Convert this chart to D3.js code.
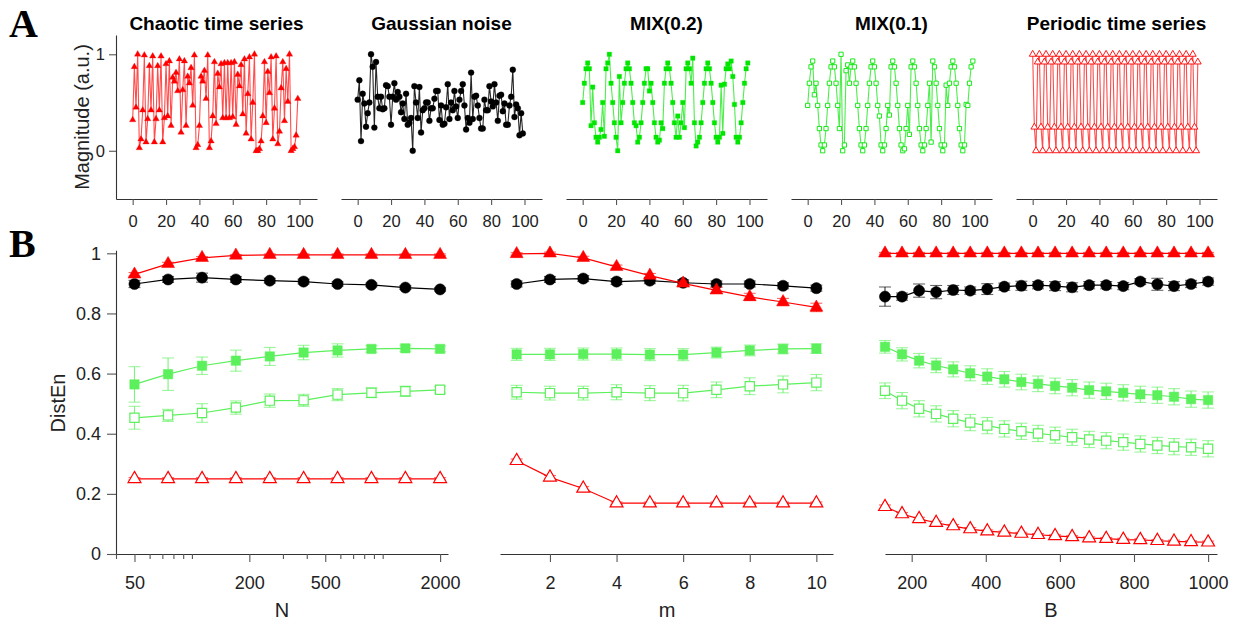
<!DOCTYPE html>
<html>
<head>
<meta charset="utf-8">
<script src="https://cdn.jsdelivr.net/npm/d3@7"></script>
<style>
  html, body { margin: 0; padding: 0; background: #fff; }
  text { font-family: "Liberation Sans", Arial, Helvetica, sans-serif; fill: #222; }
</style>
</head>
<body>
<script>
// ---------------- DATA ----------------
const tsTitles = ["Chaotic time series", "Gaussian noise", "MIX(0.2)", "MIX(0.1)", "Periodic time series"];
const tsTicks = [0, 20, 40, 60, 80, 100];
const tsYTicks = [0, 1];

const chaoticTS = [0.32,0.87,0.45,1.0,0.03,0.12,0.42,0.99,0.09,0.33,0.88,0.42,0.98,0.09,0.33,0.88,0.42,0.98,0.09,0.34,
  0.90,0.36,0.93,0.26,0.76,0.72,0.81,0.62,0.95,0.19,0.63,0.93,0.26,0.77,0.70,0.86,0.47,0.99,0.03,0.06,
  0.26,0.77,0.72,0.83,0.54,0.99,0.03,0.10,0.36,0.92,0.28,0.80,0.66,0.90,0.34,0.91,0.34,0.91,0.34,0.91,
  0.35,0.92,0.27,0.79,0.67,0.89,0.38,0.95,0.18,0.59,0.97,0.12,0.50,1.0,0.0,0.0,0.02,0.10,0.36,0.92,
  0.29,0.82,0.60,0.97,0.12,0.44,0.98,0.07,0.20,0.65,0.92,0.31,0.85,0.51,1.0,0.0,0.02,0.04,0.16,0.54];

const gaussianTS = [0.53,0.73,0.10,0.59,0.49,0.25,0.39,0.50,1.0,0.87,0.24,0.92,0.56,0.44,0.56,0.43,0.44,0.68,0.67,0.56,
  0.27,0.56,0.70,0.53,0.61,0.56,0.40,0.49,0.33,0.59,0.27,0.29,0.34,0.0,0.67,0.50,0.34,0.66,0.19,0.42,
  0.44,0.50,0.50,0.31,0.44,0.44,0.54,0.62,0.62,0.32,0.47,0.27,0.28,0.45,0.69,0.33,0.50,0.42,0.62,0.46,
  0.34,0.53,0.62,0.69,0.47,0.22,0.34,0.29,0.81,0.33,0.56,0.57,0.47,0.34,0.23,0.23,0.53,0.42,0.42,0.67,
  0.51,0.46,0.69,0.50,0.31,0.57,0.58,0.41,0.49,0.27,0.27,0.47,0.56,0.84,0.35,0.48,0.44,0.16,0.39,0.18];

const mix02TS = [0.50,0.70,0.85,0.91,0.85,0.26,0.66,0.29,0.14,0.09,0.14,0.22,0.50,0.15,0.85,0.91,1.0,0.70,0.50,0.29,
  0.14,0.0,0.77,0.29,0.50,0.70,0.85,0.91,0.85,0.70,0.50,0.29,0.26,0.09,0.14,0.29,0.50,0.70,0.85,0.85,
  0.62,0.70,0.50,0.29,0.14,0.09,0.11,0.29,0.23,0.70,0.85,0.91,0.85,0.70,0.50,0.29,0.14,0.36,0.14,0.29,
  0.50,0.24,0.85,0.91,0.85,0.70,0.96,0.29,0.05,0.09,0.14,0.29,0.50,0.70,0.85,0.91,0.85,0.70,0.50,0.29,
  0.14,0.09,0.14,0.68,0.18,0.69,0.85,0.90,0.85,0.93,0.77,0.48,0.14,0.09,0.14,0.29,0.50,0.70,0.85,0.91];

const mix01TS = [0.47,0.70,0.87,0.93,0.58,0.70,0.47,0.23,0.06,0.0,0.06,0.23,0.47,0.70,0.87,0.93,0.87,0.70,0.47,0.23,
  1.0,0.0,0.06,0.83,0.89,0.70,0.87,0.93,0.87,0.70,0.47,0.23,0.06,0.0,0.06,0.23,0.47,0.70,0.87,0.93,
  0.87,0.70,0.47,0.36,0.06,0.0,0.06,0.23,0.47,0.37,0.87,0.93,0.87,0.70,0.47,0.23,0.06,0.0,0.02,0.23,
  0.47,0.17,0.87,0.93,0.87,0.70,0.47,0.23,0.06,0.0,0.06,0.23,0.47,0.70,0.09,0.93,0.87,0.70,0.47,0.23,
  0.06,0.0,0.06,0.68,0.47,0.70,0.87,0.93,0.87,0.70,0.47,0.23,0.06,0.0,0.06,0.48,0.47,0.70,0.87,0.93];

const periodicTS = [1.0,0.245,0.0,0.92,1.0,0.245,0.0,0.92,1.0,0.245,0.0,0.92,1.0,0.245,0.0,0.92,1.0,0.245,0.0,0.92,
  1.0,0.245,0.0,0.92,1.0,0.245,0.0,0.92,1.0,0.245,0.0,0.92,1.0,0.245,0.0,0.92,1.0,0.245,0.0,0.92,
  1.0,0.245,0.0,0.92,1.0,0.245,0.0,0.92,1.0,0.245,0.0,0.92,1.0,0.245,0.0,0.92,1.0,0.245,0.0,0.92,
  1.0,0.245,0.0,0.92,1.0,0.245,0.0,0.92,1.0,0.245,0.0,0.92,1.0,0.245,0.0,0.92,1.0,0.245,0.0,0.92,
  1.0,0.245,0.0,0.92,1.0,0.245,0.0,0.92,1.0,0.245,0.0,0.92,1.0,0.245,0.0,0.92,1.0,0.245,0.0,0.92];

// Panel B
const yTicksB = [0, 0.2, 0.4, 0.6, 0.8, 1];
const yTickLabelsB = ["0", "0.2", "0.4", "0.6", "0.8", "1"];

const NVals = [50, 75, 113, 170, 256, 385, 580, 873, 1315, 2000];
const NMajorTicks = [50, 200, 500, 2000];
const NMinorTicks = [40, 60, 70, 80, 90, 100, 300, 400, 600, 700, 800, 900, 1000];
const N_chaotic  = [0.930,0.965,0.985,0.993,0.995,0.995,0.995,0.995,0.995,0.995];
const N_chaoticE = [0.006,0.005,0.004,0.003,0.003,0.003,0.003,0.003,0.003,0.003];
const N_gauss    = [0.898,0.913,0.919,0.913,0.909,0.906,0.898,0.895,0.886,0.880];
const N_gaussE   = [0.012,0.010,0.015,0.010,0.008,0.008,0.007,0.006,0.006,0.005];
const N_mix02    = [0.564,0.598,0.626,0.643,0.657,0.670,0.677,0.682,0.684,0.682];
const N_mix02E   = [0.059,0.054,0.029,0.035,0.030,0.024,0.022,0.011,0.010,0.010];
const N_mix01    = [0.453,0.461,0.469,0.487,0.510,0.511,0.530,0.536,0.541,0.546];
const N_mix01E   = [0.038,0.020,0.031,0.022,0.022,0.020,0.020,0.016,0.017,0.011];
const N_periodic = [0.250,0.250,0.250,0.250,0.250,0.250,0.250,0.250,0.250,0.250];
const N_periodicE= [0.004,0.004,0.004,0.004,0.004,0.004,0.004,0.004,0.004,0.004];

const mVals = [1, 2, 3, 4, 5, 6, 7, 8, 9, 10];
const mTicks = [2, 4, 6, 8, 10];
const m_chaotic  = [0.998,1.000,0.985,0.955,0.926,0.900,0.877,0.855,0.838,0.820];
const m_chaoticE = [0.004,0.004,0.005,0.006,0.007,0.008,0.010,0.012,0.012,0.014];
const m_gauss    = [0.898,0.913,0.916,0.906,0.909,0.902,0.898,0.898,0.892,0.884];
const m_gaussE   = [0.010,0.010,0.010,0.010,0.010,0.010,0.010,0.010,0.010,0.010];
const m_mix02    = [0.664,0.664,0.665,0.665,0.663,0.663,0.670,0.677,0.682,0.683];
const m_mix02E   = [0.020,0.020,0.020,0.020,0.020,0.020,0.018,0.018,0.016,0.016];
const m_mix01    = [0.538,0.535,0.535,0.538,0.535,0.535,0.546,0.558,0.564,0.570];
const m_mix01E   = [0.023,0.023,0.023,0.025,0.025,0.026,0.026,0.028,0.028,0.027];
const m_periodic = [0.310,0.255,0.218,0.169,0.169,0.169,0.169,0.169,0.169,0.169];
const m_periodicE= [0.006,0.006,0.006,0.004,0.004,0.004,0.004,0.004,0.004,0.004];

const BVals = [128,174,220,266,312,358,404,450,496,541,587,633,679,725,771,817,863,908,954,1000];
const BTicks = [200, 400, 600, 800, 1000];
const B_chaotic  = [1.0,1.0,1.0,1.0,1.0,1.0,1.0,1.0,1.0,1.0,1.0,1.0,1.0,1.0,1.0,1.0,1.0,1.0,1.0,1.0];
const B_chaoticE = [0.003,0.003,0.003,0.003,0.003,0.003,0.003,0.003,0.003,0.003,0.003,0.003,0.003,0.003,0.003,0.003,0.003,0.003,0.003,0.003];
const B_gauss    = [0.856,0.856,0.876,0.871,0.878,0.876,0.881,0.889,0.892,0.894,0.891,0.887,0.894,0.894,0.891,0.906,0.897,0.891,0.898,0.906];
const B_gaussE   = [0.032,0.012,0.022,0.022,0.015,0.012,0.018,0.012,0.015,0.012,0.015,0.015,0.012,0.012,0.012,0.010,0.020,0.015,0.012,0.012];
const B_mix02    = [0.689,0.664,0.643,0.627,0.614,0.601,0.590,0.581,0.572,0.566,0.559,0.553,0.545,0.541,0.536,0.531,0.528,0.523,0.515,0.512];
const B_mix02E   = [0.021,0.022,0.024,0.024,0.025,0.025,0.026,0.026,0.026,0.026,0.026,0.027,0.027,0.027,0.027,0.027,0.027,0.027,0.027,0.027];
const B_mix01    = [0.543,0.510,0.483,0.466,0.450,0.437,0.427,0.416,0.408,0.401,0.395,0.388,0.381,0.377,0.372,0.366,0.361,0.357,0.355,0.350];
const B_mix01E   = [0.026,0.027,0.027,0.027,0.027,0.027,0.027,0.027,0.027,0.027,0.027,0.027,0.027,0.027,0.027,0.027,0.027,0.027,0.027,0.027];
const B_periodic = [0.157,0.133,0.117,0.104,0.093,0.083,0.076,0.072,0.068,0.064,0.060,0.057,0.053,0.051,0.048,0.047,0.044,0.042,0.040,0.039];
const B_periodicE= [0.006,0.005,0.005,0.005,0.005,0.005,0.004,0.004,0.004,0.004,0.004,0.004,0.004,0.004,0.004,0.004,0.004,0.004,0.004,0.004];

// ---------------- DRAWING ----------------
const W = 1239, H = 622;
const RED = "#ff0000", BLACK = "#000000", GREEN_T = "#00e600", GREEN_B = "#5cf05c";
const svg = d3.select("body").append("svg").attr("width", W).attr("height", H);

const sym = (type, area) => d3.symbol().type(type).size(area)();

function styleAxis(g) {
  g.select(".domain").attr("stroke", "#333").attr("stroke-width", 1.1);
  g.selectAll(".tick line").attr("stroke", "#555").attr("stroke-width", 1.1);
  g.selectAll(".tick text").attr("fill", "#222").attr("font-family", '"Liberation Sans", Arial, sans-serif');
}

// Panel letters
svg.append("text").attr("x", 9).attr("y", 37).text("A")
  .style("font-family", '"Liberation Serif", "DejaVu Serif", serif').style("font-weight", "bold").style("font-size", "40px").style("fill", "#000");
svg.append("text").attr("x", 9).attr("y", 257).text("B")
  .style("font-family", '"Liberation Serif", "DejaVu Serif", serif').style("font-weight", "bold").style("font-size", "40px").style("fill", "#000");

// ---- Panel A ----
const tsLeft = [116, 341, 566, 791, 1016];
const tsWidth = 201;
const tsSeries = [chaoticTS, gaussianTS, mix02TS, mix01TS, periodicTS];
const tsColors = [RED, BLACK, GREEN_T, GREEN_T, RED];
const tsMarkers = [
  {type: d3.symbolTriangle, area: 18, fill: true},
  {type: d3.symbolCircle, area: 28, fill: true},
  {type: d3.symbolSquare, area: 20, fill: true},
  {type: d3.symbolSquare, area: 18, fill: false},
  {type: d3.symbolTriangle, area: 20, fill: false}
];
const yA = d3.scaleLinear().domain([-0.5, 1.2]).range([199, 35]);

tsSeries.forEach((data, i) => {
  const x = d3.scaleLinear().domain([-10, 110.5]).range([tsLeft[i], tsLeft[i] + tsWidth]);
  const g = svg.append("g");
  const ax = g.append("g").attr("transform", "translate(0,199)")
    .call(d3.axisBottom(x).tickValues(tsTicks).tickSize(6).tickSizeOuter(0).tickPadding(10));
  styleAxis(ax);
  ax.selectAll(".tick text").style("font-size", "16.5px");

  if (i === 0) {
    const ay = g.append("g").attr("transform", `translate(${tsLeft[0]},0)`)
      .call(d3.axisLeft(yA).tickValues(tsYTicks).tickSize(7).tickSizeOuter(0).tickPadding(4).tickFormat(d3.format("d")));
    styleAxis(ay);
    ay.selectAll(".tick text").style("font-size", "16.5px");
  }

  g.append("text").attr("x", tsLeft[i] + tsWidth / 2).attr("y", 29.5).attr("text-anchor", "middle")
    .style("font-weight", "bold").style("font-size", "19px").style("fill", "#000").text(tsTitles[i]);

  const line = d3.line().x((d, j) => x(j)).y(d => yA(d));
  g.append("path").datum(data).attr("d", line).attr("fill", "none")
    .attr("stroke", tsColors[i]).attr("stroke-opacity", i === 1 ? 0.85 : 0.7).attr("stroke-width", 1.1);

  const mk = tsMarkers[i];
  g.selectAll("path.mk").data(data).enter().append("path").attr("class", "mk")
    .attr("d", sym(mk.type, mk.area))
    .attr("transform", (d, j) => `translate(${x(j)},${yA(d)})`)
    .attr("fill", mk.fill ? tsColors[i] : "#fff")
    .attr("stroke", tsColors[i]).attr("stroke-width", mk.fill ? 0.3 : 0.9);
});

svg.append("text").attr("transform", "translate(89,117) rotate(-90)").attr("text-anchor", "middle")
  .style("font-size", "20px").style("fill", "#222").text("Magnitude (a.u.)");

// ---- Panel B ----
const yB = d3.scaleLinear().domain([0, 1.01]).range([554, 250.3]);
const xN = d3.scaleLog().domain([40, 2200]).range([116, 448]);
const xM = d3.scaleLinear().domain([0.5, 10.5]).range([500, 833]);
const xBB = d3.scaleLinear().domain([128, 1024]).range([885, 1217]);

// y axis
const ayB = svg.append("g").attr("transform", "translate(116,0)")
  .call(d3.axisLeft(yB).tickValues(yTicksB).tickSize(9).tickSizeOuter(0).tickPadding(6)
    .tickFormat((d, i) => yTickLabelsB[i]));
styleAxis(ayB);
ayB.selectAll(".tick text").style("font-size", "18px");

// x axes
function bottomAxis(scale, ticks, fmt) {
  const a = svg.append("g").attr("transform", "translate(0,554)")
    .call(d3.axisBottom(scale).tickValues(ticks).tickSize(8).tickSizeOuter(0).tickPadding(14).tickFormat(fmt));
  styleAxis(a);
  a.selectAll(".tick text").style("font-size", "18px");
  return a;
}
bottomAxis(xN, NMajorTicks, d3.format("d"));
const minorAx = svg.append("g").attr("transform", "translate(0,554)")
  .call(d3.axisBottom(xN).tickValues(NMinorTicks).tickSize(5).tickSizeOuter(0).tickFormat(""));
styleAxis(minorAx);
minorAx.select(".domain").remove();
bottomAxis(xM, mTicks, d3.format("d"));
bottomAxis(xBB, BTicks, d3.format("d"));

svg.append("text").attr("transform", "translate(65,403) rotate(-90)").attr("text-anchor", "middle")
  .style("font-size", "20px").style("fill", "#222").text("DistEn");
svg.append("text").attr("x", 282).attr("y", 617).attr("text-anchor", "middle").style("font-size", "20px").text("N");
svg.append("text").attr("x", 667).attr("y", 617).attr("text-anchor", "middle").style("font-size", "20px").text("m");
svg.append("text").attr("x", 1051).attr("y", 617).attr("text-anchor", "middle").style("font-size", "20px").text("B");

function drawSeries(xs, xScale, vals, errs, color, markerType, area, filled) {
  const g = svg.append("g");
  const cap = 6;
  vals.forEach((v, i) => {
    const cx = xScale(xs[i]);
    const y1 = yB(v - errs[i]), y2 = yB(v + errs[i]);
    g.append("line").attr("x1", cx).attr("x2", cx).attr("y1", y1).attr("y2", y2)
      .attr("stroke", color).attr("stroke-width", 1.1).attr("stroke-opacity", 0.8);
    [y1, y2].forEach(yy => g.append("line").attr("x1", cx - cap).attr("x2", cx + cap).attr("y1", yy).attr("y2", yy)
      .attr("stroke", color).attr("stroke-width", 1.1).attr("stroke-opacity", 0.6));
  });
  const line = d3.line().x((d, i) => xScale(xs[i])).y(d => yB(d));
  g.append("path").datum(vals).attr("d", line).attr("fill", "none").attr("stroke", color).attr("stroke-width", 1.2);
  g.selectAll("path.mk").data(vals).enter().append("path").attr("class", "mk")
    .attr("d", sym(markerType, area))
    .attr("transform", (d, i) => `translate(${xScale(xs[i])},${yB(d)})`)
    .attr("fill", filled ? color : "#fff").attr("stroke", color).attr("stroke-width", filled ? 0.5 : 1.2);
}

const panelsB = [
  {xs: NVals, sc: xN, data: [[N_periodic, N_periodicE], [N_mix01, N_mix01E], [N_mix02, N_mix02E], [N_gauss, N_gaussE], [N_chaotic, N_chaoticE]]},
  {xs: mVals, sc: xM, data: [[m_periodic, m_periodicE], [m_mix01, m_mix01E], [m_mix02, m_mix02E], [m_gauss, m_gaussE], [m_chaotic, m_chaoticE]]},
  {xs: BVals, sc: xBB, data: [[B_periodic, B_periodicE], [B_mix01, B_mix01E], [B_mix02, B_mix02E], [B_gauss, B_gaussE], [B_chaotic, B_chaoticE]]}
];
const seriesStyle = [
  {color: RED, type: d3.symbolTriangle, area: 72, filled: false},
  {color: GREEN_B, type: d3.symbolSquare, area: 85, filled: false},
  {color: GREEN_B, type: d3.symbolSquare, area: 88, filled: true},
  {color: BLACK, type: d3.symbolCircle, area: 98, filled: true},
  {color: RED, type: d3.symbolTriangle, area: 72, filled: true}
];
panelsB.forEach(p => {
  p.data.forEach((d, k) => {
    const s = seriesStyle[k];
    drawSeries(p.xs, p.sc, d[0], d[1], s.color, s.type, s.area, s.filled);
  });
});
</script>
</body>
</html>
